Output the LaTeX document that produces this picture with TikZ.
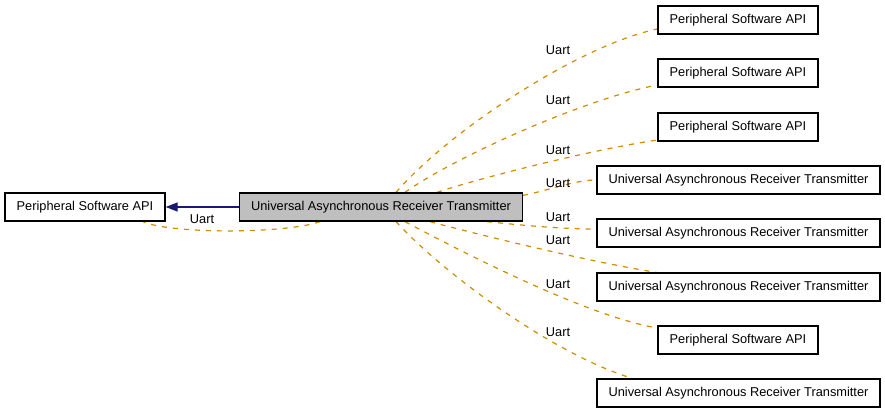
\documentclass[tikz,border=0pt]{standalone}
\usepackage{fontspec}
\setmainfont{Liberation Sans}
\usepackage{tikz}
\usetikzlibrary{arrows.meta, calc, backgrounds}
\definecolor{gnavy}{HTML}{191970}
\definecolor{gorange}{HTML}{D08C00}
\definecolor{ggray}{HTML}{BFBFBF}
\tikzset{
  gbox/.style={draw=black, fill=white, line width=1.3pt, minimum height=28pt,
               inner sep=0pt, font=\fontsize{12.8}{15}\selectfont},
  psbox/.style={gbox, minimum width=160pt},
  uabox/.style={gbox, minimum width=283pt},
  curbox/.style={uabox, fill=ggray},
  uses/.style={gorange, line width=1.2pt, dash pattern=on 5pt off 6pt},
  dep/.style={-{Triangle[length=12pt,width=9pt]}, gnavy, line width=1.3pt},
  elbl/.style={font=\fontsize{12.8}{15}\selectfont, inner sep=0pt},
}

\begin{document}
\begin{tikzpicture}[x=1pt, y=-1pt]
  \useasboundingbox (0,0) rectangle (885,413);

  \node[curbox] (c) at (381,207) {Universal Asynchronous Receiver Transmitter};
  \node[psbox] (l) at (85,207) {Peripheral Software API};

  \node[psbox] (r1) at (738,20) {Peripheral Software API};
  \node[psbox] (r2) at (738,73) {Peripheral Software API};
  \node[psbox] (r3) at (738,127) {Peripheral Software API};
  \node[uabox] (r4) at (738.5,180) {Universal Asynchronous Receiver Transmitter};
  \node[uabox] (r5) at (738.5,233) {Universal Asynchronous Receiver Transmitter};
  \node[uabox] (r6) at (738.5,287) {Universal Asynchronous Receiver Transmitter};
  \node[psbox] (r7) at (738,340) {Peripheral Software API};
  \node[uabox] (r8) at (738.5,393) {Universal Asynchronous Receiver Transmitter};

  \draw[dep] (c.west) -- (l.east);

  \begin{scope}[on background layer]
  \draw[uses] ($(c.south)+(-61,0)$) .. controls (285,234) and (170,234) .. ($(l.south)+(58,0)$);
  % edges to the right column
  \draw[uses] ($(c.north)+(15,0)$) .. controls (450,130) and (580,45) .. ($(r1.west)+(0,9)$);
  \draw[uses] ($(c.north)+(24,0)$) .. controls (450,160) and (580,100) .. ($(r2.west)+(0,12)$);
  \draw[uses] ($(c.north)+(56,0)$) .. controls (480,178) and (590,150) .. ($(r3.west)+(0,13)$);
  \draw[uses] ($(c.north east)+(0,3)$) .. controls (550,190) and (575,180) .. (r4.west);
  \draw[uses] ($(c.south)+(106,0)$) .. controls (520,225) and (560,229) .. ($(r5.west)+(0,-4)$);
  \draw[uses] ($(c.south)+(49,0)$) .. controls (480,235) and (590,262) .. ($(r6.north west)+(60,0)$);
  \draw[uses] ($(c.south)+(24,0)$) .. controls (440,240) and (580,315) .. ($(r7.west)+(0,-12)$);
  \draw[uses] ($(c.south)+(15,0)$) .. controls (445,275) and (555,355) .. ($(r8.north west)+(36,0)$);
  \end{scope}

  \node[elbl] (ul) at (202,219) {Uart};
  \node[elbl] (u1) at (558,50) {Uart};
  \node[elbl] (u2) at (558,100) {Uart};
  \node[elbl] (u3) at (558,150) {Uart};
  \node[elbl] (u4) at (558,183) {Uart};
  \node[elbl] (u5) at (558,217) {Uart};
  \node[elbl] (u6) at (558,240) {Uart};
  \node[elbl] (u7) at (558,284) {Uart};
  \node[elbl] (u8) at (558,332) {Uart};
\end{tikzpicture}
\end{document}
